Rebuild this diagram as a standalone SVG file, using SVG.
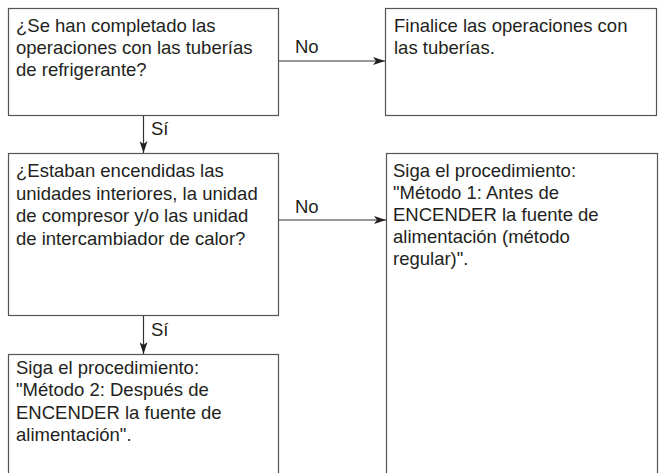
<svg xmlns="http://www.w3.org/2000/svg" width="659" height="473" viewBox="0 0 659 473">
<style>
.box{fill:#fff;stroke:#555;stroke-width:1.2}
.t{font-family:"Liberation Sans",Arial,sans-serif;font-size:18.5px;fill:#231f20}
.c{stroke:#333;stroke-width:1.2;fill:none}
</style>
<defs>
<marker id="ah" markerWidth="12" markerHeight="8" refX="12" refY="4" orient="auto" markerUnits="userSpaceOnUse">
<path d="M0,0 L12,4 L0,8 L3,4 Z" fill="#231f20"/>
</marker>
</defs>
<rect width="659" height="473" fill="#fff"/>
<g id="n1">
<rect class="box" x="8.5" y="8.5" width="270" height="107"/>
<text class="t" x="16" y="31.5">¿Se han completado las</text>
<text class="t" x="16" y="53.5">operaciones con las tuberías</text>
<text class="t" x="16" y="75.5">de refrigerante?</text>
</g>
<g id="n2">
<rect class="box" x="385.5" y="8.5" width="271" height="107"/>
<text class="t" x="394" y="31.5">Finalice las operaciones con</text>
<text class="t" x="394" y="53.5">las tuberías.</text>
</g>
<g id="n3">
<rect class="box" x="8.5" y="153.5" width="270" height="162"/>
<text class="t" x="16" y="177">¿Estaban encendidas las</text>
<text class="t" x="16" y="199.5">unidades interiores, la unidad</text>
<text class="t" x="16" y="222">de compresor y/o las unidad</text>
<text class="t" x="16" y="244.5">de intercambiador de calor?</text>
</g>
<g id="n4">
<rect class="box" x="386.5" y="153.5" width="271" height="330"/>
<text class="t" x="393" y="177">Siga el procedimiento:</text>
<text class="t" x="393" y="199">"Método 1: Antes de</text>
<text class="t" x="393" y="221">ENCENDER la fuente de</text>
<text class="t" x="393" y="243">alimentación (método</text>
<text class="t" x="393" y="265">regular)".</text>
</g>
<g id="n5">
<rect class="box" x="8.5" y="354.5" width="270" height="130"/>
<text class="t" x="16" y="373.5">Siga el procedimiento:</text>
<text class="t" x="16" y="396">"Método 2: Después de</text>
<text class="t" x="16" y="418.5">ENCENDER la fuente de</text>
<text class="t" x="16" y="441">alimentación".</text>
</g>
<g id="connectors">
<line class="c" x1="279" y1="61" x2="385" y2="61" marker-end="url(#ah)"/>
<text class="t" x="295" y="53">No</text>
<line class="c" x1="143.5" y1="116" x2="143.5" y2="153" marker-end="url(#ah)"/>
<text class="t" x="151" y="135">Sí</text>
<line class="c" x1="279" y1="220" x2="386" y2="220" marker-end="url(#ah)"/>
<text class="t" x="295" y="213">No</text>
<line class="c" x1="143.5" y1="316" x2="143.5" y2="354" marker-end="url(#ah)"/>
<text class="t" x="151" y="336">Sí</text>
</g>
</svg>
